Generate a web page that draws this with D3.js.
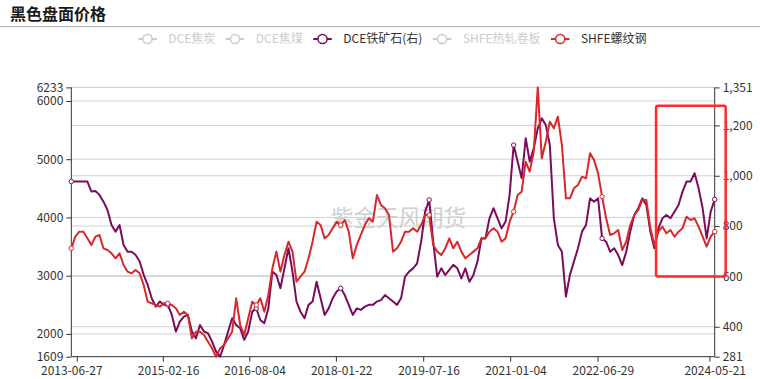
<!DOCTYPE html>
<html><head><meta charset="utf-8">
<script src="https://cdn.jsdelivr.net/npm/d3@7/dist/d3.min.js"></script>
<style>body{margin:0;background:#fff}svg{display:block}</style>
</head><body><svg id="c" width="760" height="379"></svg>
<script>
// ---------- data ----------
const startDate = '2013-06-27';
const endDate = '2024-05-21';
const xLabels = ['2013-06-27','2015-02-16','2016-08-04','2018-01-22','2019-07-16','2021-01-04','2022-06-29','2024-05-21'];
const leftTicks = [1609, 2000, 3000, 4000, 5000, 6000, 6233];
const rightTicks = [281, 400, 600, 800, 1000, 1200, 1351];
const legendNames = ['DCE焦炭','DCE焦煤','DCE铁矿石(右)','SHFE热轧卷板','SHFE螺纹钢'];
const legendActive = [false, false, true, false, true];
// DCE iron ore (right axis), sampled evenly from start to end date
const ironOre = [977,977,977,977,977,937,939,924,897,864,804,778,804,725,698,698,685,659,606,566,
 513,480,500,487,487,447,381,420,440,447,381,354,407,381,374,341,301,281,328,381,
 434,407,394,348,381,460,473,427,414,473,619,606,553,632,712,619,500,460,434,487,
 500,579,513,447,473,513,540,553,526,487,447,473,467,480,487,487,500,506,526,513,
 500,487,513,599,619,632,652,738,857,904,738,599,632,606,626,646,632,592,632,579,
 606,659,751,751,831,871,831,791,818,924,1122,1056,990,1149,1056,1109,1188,1228,1202,1122,
 831,725,698,520,606,659,712,778,804,910,897,910,751,738,698,712,685,645,698,778,
 844,871,910,884,778,712,791,831,844,831,857,884,937,977,977,1010,950,871,751,857,906];
// SHFE rebar (left axis)
const rebar = [3470,3670,3756,3756,3641,3527,3670,3699,3470,3441,3384,3298,3384,3184,3069,3040,3098,3040,2840,2554,
 2525,2497,2468,2525,2525,2497,2440,2325,2382,2325,1924,2039,2039,1982,1867,1753,1609,1753,1810,1924,
 2039,2611,2153,1982,2268,2554,2497,2611,2382,2668,3126,3413,3069,3355,3584,3413,2898,2983,3069,3298,
 3584,3927,3870,3641,3699,3813,3927,3870,3956,3756,3298,3527,3699,3870,3985,3927,4385,4214,4157,4042,
 3413,3470,3584,3756,3756,3813,3756,3870,4042,4042,3527,3413,3355,3470,3641,3470,3584,3413,3298,3355,
 3413,3470,3641,3641,3756,3813,3756,3584,3641,3927,4099,4385,4443,4958,4786,5129,6233,5015,5301,5644,
 5530,5730,5244,4328,4328,4500,4557,4700,4672,5101,4986,4757,4357,3985,3699,3727,3784,3441,3584,3870,
 4042,4128,4300,4300,3813,3527,3756,3842,3727,3784,3670,3756,3813,4013,3956,3985,3842,3670,3498,3670,3756];
const boxFrom = '2023-05-24';   // annotation box start
const boxTopValue = 1278, boxBottomValue = 600;

// ---------- layout ----------
const W = 760, H = 379;
const m = {l: 71.3, r: 45.3, t: 87.4, b: 22.3};
const purple = '#7b0c5b', red = '#d7282c';
const legendColors = ['#ccc','#ccc',purple,'#ccc',red];
const font = '"Noto Sans CJK SC","Noto Sans",sans-serif';

const svg = d3.select('#c');
const parse = d3.timeParse('%Y-%m-%d');
const t0 = parse(startDate), t1 = parse(endDate);
const N = ironOre.length;
const dates = d3.range(N).map(i => new Date(+t0 + (t1 - t0) * i / (N - 1)));

const x = d3.scaleTime().domain([t0, t1]).range([m.l, W - m.r]);
const yL = d3.scaleLinear().domain([1609, 6233]).range([H - m.b, m.t]);
const yR = d3.scaleLinear().domain([281, 1351]).range([H - m.b, m.t]);

// title
svg.append('text').attr('x', 10).attr('y', 20).text('黑色盘面价格')
  .attr('font-family', font).attr('font-weight', 'bold').attr('font-size', 16).attr('fill', '#1a1a1a');
svg.append('line').attr('x1', 0).attr('x2', W).attr('y1', 26.7).attr('y2', 26.7)
  .attr('stroke', '#aaa').attr('stroke-width', 1);

// legend
let lx = 138.3;
const ly = 39;
legendNames.forEach((name, i) => {
  const g = svg.append('g');
  const c = legendColors[i];
  g.append('line').attr('x1', lx).attr('x2', lx + 18.5).attr('y1', ly).attr('y2', ly)
    .attr('stroke', c).attr('stroke-width', 2);
  g.append('circle').attr('cx', lx + 9.25).attr('cy', ly).attr('r', 4.6)
    .attr('fill', '#fff').attr('stroke', c).attr('stroke-width', 1.5);
  const t = g.append('text').attr('x', lx + 30).attr('y', ly + 4.2).text(name)
    .attr('font-family', font).attr('font-size', 12).attr('fill', legendActive[i] ? '#333' : '#ccc');
  lx = lx + 30 + t.node().getComputedTextLength() + 10.5;
});

// watermark
svg.append('text').attr('x', 398.5).attr('y', 225.5).attr('text-anchor', 'middle').text('紫金天风期货')
  .attr('font-family', font).attr('font-size', 22.5).attr('fill', '#c4c4c4').attr('opacity', 0.8);

// gridlines
const grid = svg.append('g');
leftTicks.filter(v => v !== 1609).forEach(v => grid.append('line')
  .attr('x1', m.l).attr('x2', W - m.r).attr('y1', yL(v)).attr('y2', yL(v)).attr('stroke', '#d2d2d2'));
rightTicks.filter(v => v !== 281).forEach(v => grid.append('line')
  .attr('x1', m.l).attr('x2', W - m.r).attr('y1', yR(v)).attr('y2', yR(v)).attr('stroke', '#d2d2d2'));

// axes
const axStyle = g => {
  g.selectAll('path,line').attr('stroke', '#333');
  g.selectAll('text').attr('fill', '#333').attr('font-family', font).attr('font-size', 12);
};
svg.append('g').attr('transform', `translate(${m.l},0)`)
  .call(d3.axisLeft(yL).tickValues(leftTicks).tickSize(5).tickSizeOuter(0).tickPadding(3).tickFormat(d3.format('d')))
  .call(axStyle).call(g => g.select('.domain').remove());
svg.append('g').attr('transform', `translate(${W - m.r},0)`)
  .call(d3.axisRight(yR).tickValues(rightTicks).tickSize(5).tickSizeOuter(0).tickPadding(3).tickFormat(d3.format(',')))
  .call(axStyle).call(g => g.select('.domain').remove());
svg.append('line').attr('x1', m.l).attr('x2', m.l).attr('y1', m.t).attr('y2', H - m.b).attr('stroke', '#333');
svg.append('line').attr('x1', W - m.r).attr('x2', W - m.r).attr('y1', m.t).attr('y2', H - m.b).attr('stroke', '#333');
const xa = svg.append('g').attr('transform', `translate(0,${H - m.b})`)
  .call(d3.axisBottom(x).tickValues(xLabels.map(parse)).tickSize(0).tickSizeOuter(0).tickPadding(10)
    .tickFormat(d3.timeFormat('%Y-%m-%d')))
  .call(axStyle);
xa.select('.domain').remove();
svg.append('line').attr('x1', m.l).attr('x2', W - m.r).attr('y1', H - m.b).attr('y2', H - m.b).attr('stroke', '#333');
// axis tick marks sit slightly off the label centres in the reference
xLabels.forEach((d, i) => {
  const px = x(parse(d)) + (i === 0 ? 6 : -4.8);
  svg.append('line').attr('x1', px).attr('x2', px).attr('y1', H - m.b).attr('y2', H - m.b + 5).attr('stroke', '#333');
});

// lines
const lineR = d3.line().x((d, i) => x(dates[i])).y(d => yR(d));
const lineL = d3.line().x((d, i) => x(dates[i])).y(d => yL(d));
svg.append('path').datum(ironOre).attr('d', lineR).attr('fill', 'none')
  .attr('stroke', purple).attr('stroke-width', 2).attr('stroke-linejoin', 'round');
svg.append('path').datum(rebar).attr('d', lineL).attr('fill', 'none')
  .attr('stroke', red).attr('stroke-width', 2).attr('stroke-linejoin', 'round');

// symbols near label dates
const nearest = d => d3.minIndex(dates, t => Math.abs(t - d));
xLabels.map(parse).forEach(d => {
  const i = nearest(d);
  svg.append('circle').attr('cx', x(dates[i])).attr('cy', yR(ironOre[i])).attr('r', 2.2)
    .attr('fill', '#fff').attr('stroke', purple).attr('stroke-width', 1);
  svg.append('circle').attr('cx', x(dates[i])).attr('cy', yL(rebar[i])).attr('r', 2.2)
    .attr('fill', '#fff').attr('stroke', red).attr('stroke-width', 1);
});

// annotation box
const bx = x(parse(boxFrom)), bx2 = W - m.r + 11;
svg.append('rect').attr('x', bx).attr('y', yR(boxTopValue)).attr('width', bx2 - bx)
  .attr('height', yR(boxBottomValue) - yR(boxTopValue)).attr('rx', 2)
  .attr('fill', 'none').attr('stroke', '#ff2a2a').attr('stroke-width', 2.5);
</script></body></html>
